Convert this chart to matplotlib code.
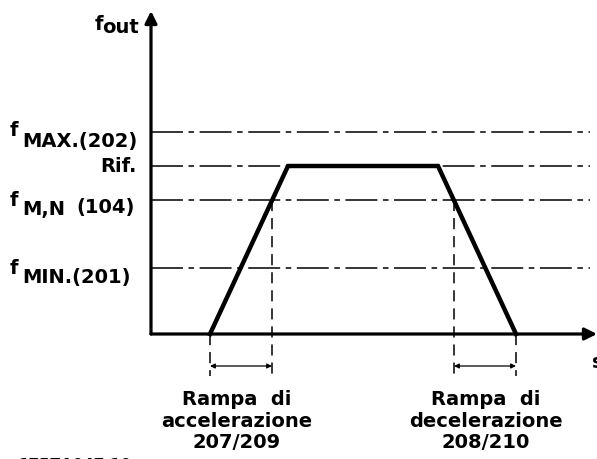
import matplotlib
matplotlib.use('Agg')
import matplotlib.pyplot as plt

plt.rcParams['lines.scale_dashes'] = False
plt.rcParams['font.family'] = ['DejaVu Sans']
plt.rcParams['font.weight'] = 'bold'

# frequency levels (height above the time axis)
LEVEL_NAMES = ['f MIN.(201)', 'f M,N (104)', 'Rif.', 'f MAX.(202)']
LEVELS = [66, 134, 168, 202]

# ramp profile: time / frequency points of the output curve
PROFILE_T = [59, 137, 287, 365]
PROFILE_F = [0, 168, 168, 0]

# times where the ramps cross f M,N
CROSS_T = [121, 303]

RAMP_LABELS = [['Rampa  di', 'accelerazione', '207/209'],
               ['Rampa  di', 'decelerazione', '208/210']]

X0, Y0 = 151, 335      # pixel position of the origin


def main():
    fig = plt.figure(figsize=(5.97, 4.60), dpi=100)
    ax = fig.add_axes([0, 0, 1, 1])
    ax.set_xlim(-X0, 597 - X0)
    ax.set_ylim(Y0 - 460, Y0)
    ax.axis('off')

    # axes with arrow heads
    ax.annotate('', xy=(446, 0), xytext=(0, 0),
                arrowprops=dict(arrowstyle='-|>', lw=2.3, color='black',
                                mutation_scale=18, shrinkA=0, shrinkB=0))
    ax.annotate('', xy=(0, 323), xytext=(0, 0),
                arrowprops=dict(arrowstyle='-|>', lw=2.3, color='black',
                                mutation_scale=18, shrinkA=0, shrinkB=0))

    # dash-dot reference levels
    for lv in LEVELS:
        ax.plot([0, 439], [lv, lv], color='black', lw=1.1,
                dashes=(23, 4, 4, 4), zorder=1)

    # the ramp profile
    ax.plot(PROFILE_T, PROFILE_F, color='black', lw=3.2,
            solid_joinstyle='miter', zorder=3)

    # vertical dashed guides
    fmn = LEVELS[1]
    guides = [(PROFILE_T[0], 0), (CROSS_T[0], fmn),
              (CROSS_T[1], fmn), (PROFILE_T[3], 0)]
    for t, top in guides:
        ax.plot([t, t], [top, -42], color='black', lw=1.1,
                dashes=(8, 5), zorder=2)

    # double arrows marking the ramp times
    spans = [(PROFILE_T[0], CROSS_T[0]), (CROSS_T[1], PROFILE_T[3])]
    for a, b in spans:
        ax.annotate('', xy=(b, -32), xytext=(a, -32),
                    arrowprops=dict(arrowstyle='<|-|>', lw=0.9, color='black',
                                    mutation_scale=7, shrinkA=0, shrinkB=0))

    # ramp descriptions, one line at a time
    offsets = [-4, 1]
    for (a, b), lines, dx in zip(spans, RAMP_LABELS, offsets):
        for line, base in zip(lines, [-70, -92, -113]):
            ax.text((a + b) / 2 + dx, base, line, ha='center', va='baseline',
                    fontsize=14)

    # left labels
    lab = dict(fontsize=14, va='center')
    ax.text(-141, LEVELS[3] + 3, 'f', **lab)
    ax.text(-129, LEVELS[3] - 8, 'MAX.(202)', **lab)
    ax.text(-14, LEVELS[2], 'Rif.', ha='right', **lab)
    ax.text(-141, LEVELS[1] + 1, 'f', **lab)
    ax.text(-129, LEVELS[1] - 8, 'M,N', **lab)
    ax.text(-16, LEVELS[1] - 6, '(104)', ha='right', **lab)
    ax.text(-141, LEVELS[0] + 0, 'f', **lab)
    ax.text(-129, LEVELS[0] - 8, 'MIN.(201)', **lab)

    # axis labels
    ax.text(-56, 311, 'f', **lab)
    ax.text(-49, 302, 'out', fontsize=14, va='baseline')
    ax.text(441, -27, 's', **lab)

    # drawing number, mostly cut off at the bottom edge
    ax.text(-133, Y0 - 466, '175ZA047.10', fontsize=11, va='center')

    fig.savefig('out.png', dpi=100)


if __name__ == '__main__':
    main()
